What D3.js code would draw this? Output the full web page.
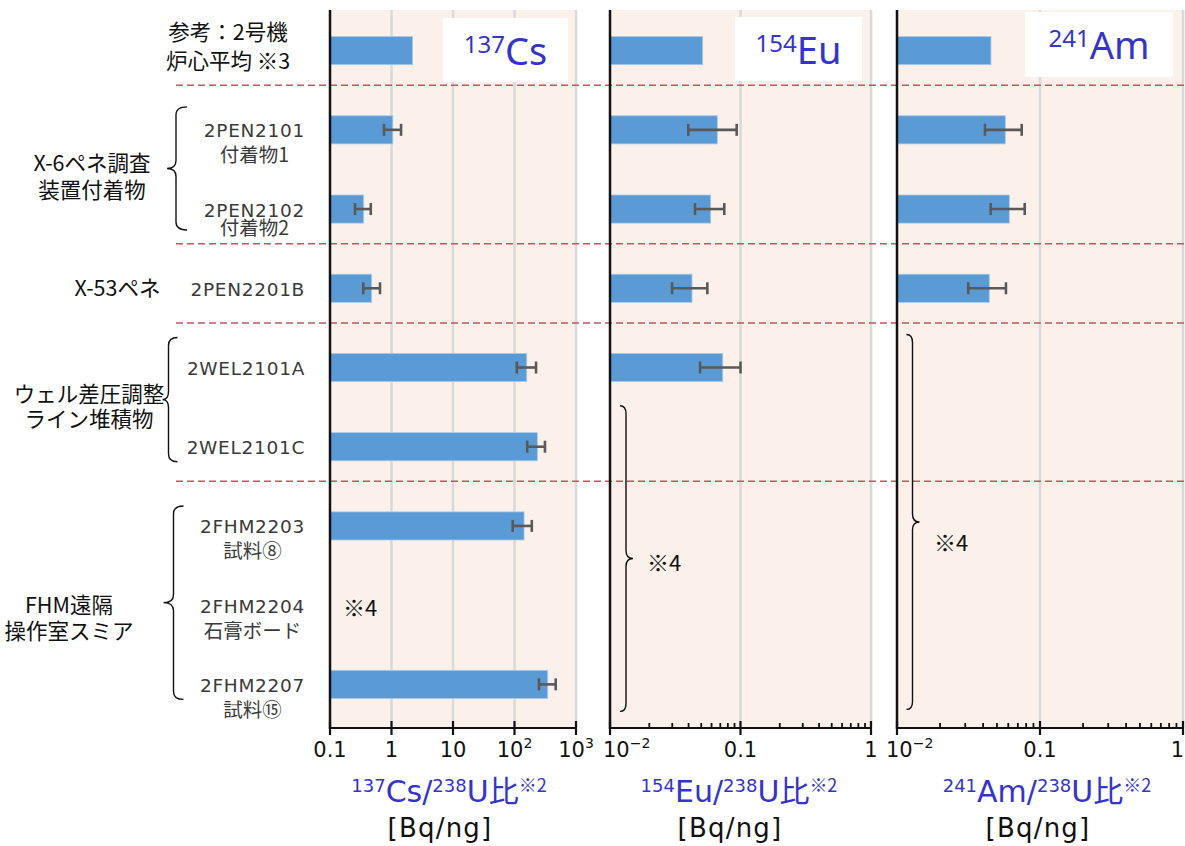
<!DOCTYPE html>
<html>
<head>
<meta charset="utf-8">
<script src="https://cdn.jsdelivr.net/npm/d3@7"></script>
<style>
  body { margin: 0; background: #fff; }
  svg { display: block; }
</style>
</head>
<body>
<svg id="chart" width="1185" height="846"></svg>
<script>
// ---------- data ----------
const sampleIds = ["core", "2PEN2101", "2PEN2102", "2PEN2201B", "2WEL2101A", "2WEL2101C", "2FHM2203", "2FHM2204", "2FHM2207"];
const sampleSubLabels = ["", "付着物1", "付着物2", "", "", "", "試料⑧", "石膏ボード", "試料⑮"];

const groupLines = [["参考：2号機", "炉心平均 ※3"], ["X-6ペネ調査", "装置付着物"], ["X-53ペネ"], ["ウェル差圧調整", "ライン堆積物"], ["FHM遠隔", "操作室スミア"]];
const groupFirstRow = [0, 1, 3, 4, 6];
const groupLastRow = [0, 2, 3, 5, 8];

// 137Cs/238U [Bq/ng]
const cs137Ratio = [2.2, 1.05, 0.353, 0.476, 158, 235, 143, null, 347];
const cs137Low = [null, 0.755, 0.255, 0.348, 109, 161, 93.5, null, 250];
const cs137High = [null, 1.43, 0.46, 0.65, 224, 313, 191, null, 468];
// 154Eu/238U [Bq/ng]
const eu154Ratio = [0.0513, 0.0664, 0.0591, 0.0425, 0.0731, null, null, null, null];
const eu154Low = [null, 0.0398, 0.0448, 0.0299, 0.049, null, null, null, null];
const eu154High = [null, 0.0935, 0.0751, 0.0557, 0.1, null, null, null, null];
// 241Am/238U [Bq/ng]
const am241Ratio = [0.0454, 0.0572, 0.061, 0.0442, null, null, null, null, null];
const am241Low = [null, 0.0412, 0.0452, 0.0315, null, null, null, null, null];
const am241High = [null, 0.0745, 0.0782, 0.0578, null, null, null, null, null];

const cs137Ticks = [0.1, 1, 10, 100, 1000];
const cs137TickLabels = ["0.1", "1", "10", "10^2", "10^3"];
const euAmTicks = [0.01, 0.1, 1];
const euAmTickLabels = ["10^\u22122", "0.1", "1"];

const separatorBefore = ["2PEN2101", "2PEN2201B", "2WEL2101A", "2FHM2203"];
const noteText = "※4";

// ---------- layout ----------
const W = 1185, H = 846;
const plotTop = 10, axisY = 728;
const blue = "#3434c8";
const barFill = "#5b9bd5";
const latin = "'DejaVu Sans', 'Noto Sans CJK JP', sans-serif";
const cjk = "'Noto Sans CJK JP', sans-serif";

const svg = d3.select("#chart");

const y = d3.scaleBand().domain(sampleIds).range([11, 724]).paddingInner(0);
const rowY = id => y(id) + y.bandwidth() / 2;
const barH = y.bandwidth() * 0.355;

const panels = [
  {
    mass: "137", sym: "Cs", domain: [0.1, 1000], range: [330, 576],
    values: cs137Ratio, low: cs137Low, high: cs137High,
    ticks: cs137Ticks, tickLabels: cs137TickLabels, minor: false, labelMinX: 300,
    box: [443, 18, 125, 64], titleX: 449, unitX: 440,
    brace: null, note: { row: "2FHM2204", x: 343 }
  },
  {
    mass: "154", sym: "Eu", domain: [0.01, 1], range: [610, 871],
    values: eu154Ratio, low: eu154Low, high: eu154High,
    ticks: euAmTicks, tickLabels: euAmTickLabels, minor: true, labelMinX: 603,
    box: [735, 17, 127, 64], titleX: 739, unitX: 730,
    brace: { first: "2WEL2101C", last: "2FHM2207", top: -41, bottom: 27, x: 626, noteX: 647, noteDy: 2 },
    note: null
  },
  {
    mass: "241", sym: "Am", domain: [0.01, 1], range: [897, 1183],
    values: am241Ratio, low: am241Low, high: am241High,
    ticks: euAmTicks, tickLabels: euAmTickLabels, minor: true, labelMinX: 886,
    box: [1025, 12, 148, 65], titleX: 1047, unitX: 1038,
    brace: { first: "2WEL2101A", last: "2FHM2207", top: -33, bottom: 25, x: 912.5, noteX: 934, noteDy: 19 },
    note: null
  }
];

// curly brace; dir = 1 opens to the left "}" (tip points right), dir = -1 is "{"
function bracePath(x, yt, yb, curl, tip, dir) {
  const ym = (yt + yb) / 2;
  const c = curl * dir, t = tip * dir;
  const r = Math.min(8, (yb - yt) / 6);
  return `M${x - c},${yt} Q${x},${yt} ${x},${yt + r}` +
    ` L${x},${ym - r} Q${x},${ym} ${x + t},${ym}` +
    ` Q${x},${ym} ${x},${ym + r}` +
    ` L${x},${yb - r} Q${x},${yb} ${x - c},${yb}`;
}

const gBack = svg.append("g");
const gSep = svg.append("g");
const gMarks = svg.append("g");
const gText = svg.append("g");

panels.forEach(p => {
  const x = d3.scaleLog().domain(p.domain).range(p.range);
  const [x0, x1] = p.range;

  // plot background
  gBack.append("rect")
    .attr("x", x0).attr("y", plotTop)
    .attr("width", x1 - x0 + 1.5).attr("height", axisY - plotTop)
    .attr("fill", "#fbf1ea");

  // decade gridlines
  gBack.selectAll(null).data(p.ticks.slice(1)).join("line")
    .attr("x1", d => x(d)).attr("x2", d => x(d))
    .attr("y1", plotTop).attr("y2", axisY)
    .attr("stroke", "#d9d9d9").attr("stroke-width", 2.5);

  // nuclide box
  const [bx, by, bw, bh] = p.box;
  gBack.append("rect").attr("x", bx).attr("y", by).attr("width", bw).attr("height", bh).attr("fill", "#fff");
  const bt = gText.append("text")
    .attr("x", bx + bw / 2).attr("y", by + 47)
    .attr("text-anchor", "middle")
    .attr("font-family", "'Noto Sans', sans-serif")
    .attr("fill", blue);
  bt.append("tspan").attr("font-size", 24).attr("dy", -12).text(p.mass);
  bt.append("tspan").attr("font-size", 38).attr("dy", 12).text(p.sym);

  // bars
  const rows = sampleIds.map((id, i) => ({ id, v: p.values[i], lo: p.low[i], hi: p.high[i] }));
  gMarks.selectAll(null).data(rows.filter(r => r.v != null)).join("rect")
    .attr("x", x0)
    .attr("y", r => rowY(r.id) - barH / 2)
    .attr("width", r => x(r.v) - x0)
    .attr("height", barH)
    .attr("fill", barFill)
    .attr("stroke", "#a9c9ea").attr("stroke-width", 0.8);

  // error bars
  const eb = gMarks.selectAll(null).data(rows.filter(r => r.lo != null)).join("g")
    .attr("stroke", "#595959").attr("stroke-width", 2.6).attr("fill", "none");
  eb.append("line")
    .attr("x1", r => x(r.lo)).attr("x2", r => x(r.hi))
    .attr("y1", r => rowY(r.id)).attr("y2", r => rowY(r.id));
  eb.append("line")
    .attr("x1", r => x(r.lo)).attr("x2", r => x(r.lo))
    .attr("y1", r => rowY(r.id) - 6).attr("y2", r => rowY(r.id) + 6);
  eb.append("line")
    .attr("x1", r => x(r.hi)).attr("x2", r => x(r.hi))
    .attr("y1", r => rowY(r.id) - 6).attr("y2", r => rowY(r.id) + 6);

  // axes lines
  gMarks.append("line").attr("x1", x0).attr("x2", x0).attr("y1", plotTop).attr("y2", axisY + 1)
    .attr("stroke", "#111").attr("stroke-width", 2.5);
  gMarks.append("line").attr("x1", x0 - 1).attr("x2", x1 + 1).attr("y1", axisY).attr("y2", axisY)
    .attr("stroke", "#111").attr("stroke-width", 2.2);

  // major ticks
  gMarks.selectAll(null).data(p.ticks).join("line")
    .attr("x1", d => x(d)).attr("x2", d => x(d))
    .attr("y1", axisY - 7).attr("y2", axisY + 7)
    .attr("stroke", "#111").attr("stroke-width", 2.2);

  // minor ticks
  if (p.minor) {
    const minor = [];
    for (let dec = p.domain[0]; dec < p.domain[1] * 0.999; dec *= 10) {
      for (let k = 2; k <= 9; k++) minor.push(dec * k);
    }
    gMarks.selectAll(null).data(minor).join("line")
      .attr("x1", d => x(d)).attr("x2", d => x(d))
      .attr("y1", axisY - 5).attr("y2", axisY)
      .attr("stroke", "#111").attr("stroke-width", 1.8);
  }

  // tick labels, kept inside the drawing area
  p.ticks.forEach((t, i) => {
    const lab = p.tickLabels[i];
    const parts = lab.split("^");
    const txt = gText.append("text")
      .attr("y", 757)
      .attr("font-family", latin).attr("font-size", 21).attr("fill", "#111");
    txt.append("tspan").text(parts[0]);
    if (parts[1]) txt.append("tspan").attr("font-size", 14).attr("dy", -9).text(parts[1]);
    const w = txt.node().getComputedTextLength();
    const left = Math.min(Math.max(x(t) - w / 2, p.labelMinX), W - w - 1);
    txt.attr("x", left);
  });

  // axis title
  const at = gText.append("text")
    .attr("x", p.titleX).attr("y", 802)
    .attr("text-anchor", "middle")
    .attr("font-family", latin).attr("fill", blue);
  at.append("tspan").attr("font-size", 18).attr("dy", -10).text(p.mass);
  at.append("tspan").attr("font-size", 30).attr("dy", 10).text(p.sym + "/");
  at.append("tspan").attr("font-size", 18).attr("dy", -10).text("238");
  at.append("tspan").attr("font-size", 30).attr("dy", 10).text("U");
  at.append("tspan").attr("font-size", 30).attr("font-family", cjk).text("比");
  at.append("tspan").attr("font-size", 18).attr("dy", -10).attr("font-family", cjk).text("※2");

  gText.append("text")
    .attr("x", p.unitX).attr("y", 837)
    .attr("text-anchor", "middle")
    .attr("font-family", latin).attr("font-size", 26).attr("letter-spacing", 1.2)
    .attr("fill", "#111").text("[Bq/ng]");

  // not-measured annotations
  if (p.brace) {
    const b = p.brace;
    const yt = rowY(b.first) + b.top, yb = rowY(b.last) + b.bottom;
    gMarks.append("path").attr("d", bracePath(b.x, yt, yb, 6, 7, 1))
      .attr("fill", "none").attr("stroke", "#111").attr("stroke-width", 1.4);
    gText.append("text")
      .attr("x", b.noteX).attr("y", (yt + yb) / 2 + b.noteDy)
      .attr("dominant-baseline", "central")
      .attr("font-family", cjk).attr("font-size", 22).attr("fill", "#111").text(noteText);
  }
  if (p.note) {
    gText.append("text")
      .attr("x", p.note.x).attr("y", rowY(p.note.row) + 1)
      .attr("dominant-baseline", "central")
      .attr("font-family", cjk).attr("font-size", 22).attr("fill", "#111").text(noteText);
  }
});

// group separators
gSep.selectAll(null).data(separatorBefore).join("line")
  .attr("x1", 176).attr("x2", W)
  .attr("y1", d => y(d) - 5).attr("y2", d => y(d) - 5)
  .attr("stroke", "#b55c5c").attr("stroke-width", 1.5)
  .attr("stroke-dasharray", "7,4");

// sample labels: lines centred on each other, block right-aligned
sampleIds.forEach((id, i) => {
  if (id === "core") return;
  const cy = rowY(id);
  const lines = [];
  lines.push(gText.append("text")
    .attr("y", cy + 1).attr("dominant-baseline", "central")
    .attr("font-family", latin).attr("font-size", 18.5).attr("letter-spacing", 0.7)
    .attr("fill", "#3a3a3a").text(id));
  if (sampleSubLabels[i]) {
    const gap = id === "2PEN2102" ? 16 : 23;
    lines.push(gText.append("text")
      .attr("y", cy + 1 + gap).attr("dominant-baseline", "central")
      .attr("font-family", cjk).attr("font-size", 19.5)
      .attr("fill", "#3a3a3a").text(sampleSubLabels[i]));
  }
  const wMax = d3.max(lines, t => t.node().getComputedTextLength());
  lines.forEach(t => t.attr("text-anchor", "middle").attr("x", 305 - wMax / 2));
});

// group labels and braces
const groupLayout = [
  { x: 228, dy: -5.5, gap: 29, brace: null },
  { x: 92, dy: 5.5, gap: 27, brace: { x: 176, top: -23, bottom: 21, curl: 11, tip: 9 } },
  { x: 117.5, dy: -2, gap: 27, brace: null },
  { x: 89, dy: -2, gap: 25, brace: { x: 168.5, top: -30, bottom: 15, curl: 9, tip: 6 } },
  { x: 69, dy: 11, gap: 26, brace: { x: 173.5, top: -20, bottom: 15, curl: 10, tip: 10 } }
];
groupLines.forEach((lines, gi) => {
  const L = groupLayout[gi];
  const c0 = rowY(sampleIds[groupFirstRow[gi]]);
  const c1 = rowY(sampleIds[groupLastRow[gi]]);
  const mid = (c0 + c1) / 2 + L.dy;
  lines.forEach((ln, k) => {
    gText.append("text")
      .attr("x", L.x)
      .attr("y", mid + (k - (lines.length - 1) / 2) * L.gap)
      .attr("text-anchor", "middle").attr("dominant-baseline", "central")
      .attr("font-family", cjk).attr("font-size", 21.5)
      .attr("fill", "#111").text(ln);
  });
  if (L.brace) {
    const b = L.brace;
    gMarks.append("path")
      .attr("d", bracePath(b.x, c0 + b.top, c1 + b.bottom, b.curl, b.tip, -1))
      .attr("fill", "none").attr("stroke", "#111").attr("stroke-width", 1.4);
  }
});
</script>
</body>
</html>
